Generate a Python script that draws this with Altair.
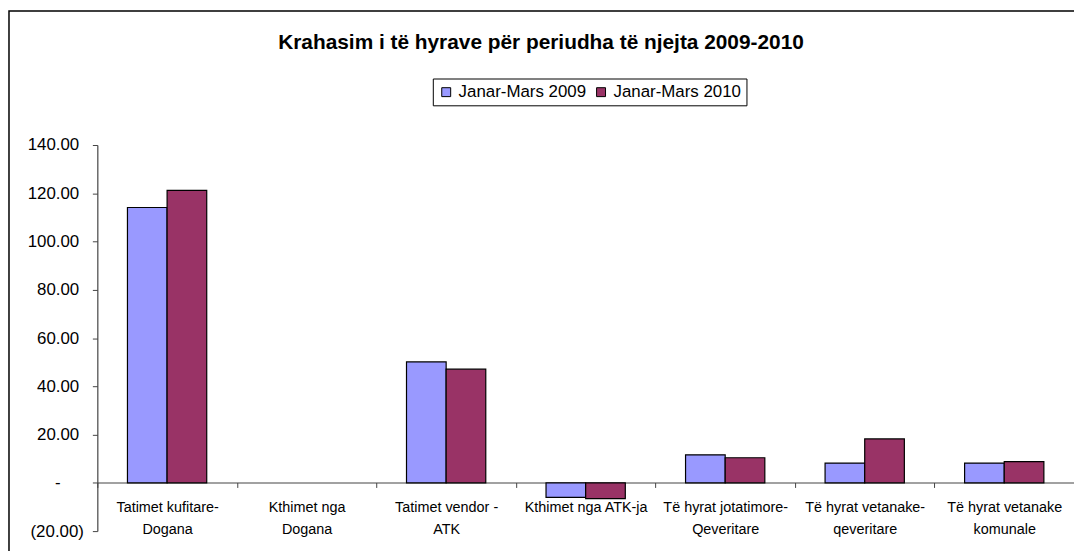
import altair as alt
import pandas as pd

categories = [
    "Tatimet kufitare-\nDogana",
    "Kthimet nga\nDogana",
    "Tatimet vendor -\nATK",
    "Kthimet nga ATK-ja",
    "Të hyrat jotatimore-\nQeveritare",
    "Të hyrat vetanake-\nqeveritare",
    "Të hyrat vetanake\nkomunale",
]
series = ["Janar-Mars 2009", "Janar-Mars 2010"]
values_2009 = [114.1, 0.0, 50.1, -6.0, 11.6, 8.2, 8.2]
values_2010 = [121.2, 0.0, 47.1, -6.5, 10.4, 18.2, 8.8]
colors = ["#9999FF", "#993366"]
y_ticks = [-20, 0, 20, 40, 60, 80, 100, 120, 140]

rows = []
for c, a, b in zip(categories, values_2009, values_2010):
    rows.append({"cat": c, "series": series[0], "value": a})
    rows.append({"cat": c, "series": series[1], "value": b})
df = pd.DataFrame(rows)

W = 984
H = 389
band = W / len(categories)
FONT = "Liberation Sans"
NB = "\u00a0"
ZW = "\u200b"

y_label_expr = (
    "datum.value == 0 ? '-" + NB * 5 + ZW + "' : (datum.value < 0 ? '(' + format(-datum.value, ',.2f') + ')' : format(datum.value, ',.2f') + '" + NB + ZW + "')"
)

bars = alt.Chart(df).mark_bar(stroke="black").encode(
    x=alt.X(
        "cat:N",
        sort=categories,
        scale=alt.Scale(paddingInner=0, paddingOuter=0),
        axis=alt.Axis(
            title=None,
            orient="bottom",
            offset=-49,
            labelExpr="split(datum.label, '\\n')",
            labelAngle=0,
            labelFontSize=14.5,
            labelLineHeight=22,
            labelFont=FONT,
            labelColor="black",
            labelPadding=13,
            labelOverlap=False,
            labelLimit=0,
            tickOffset=-band / 2,
            labelOffset=band / 2,
            tickSize=5,
            tickColor="#444",
            domainColor="#444",
            domainWidth=1.2,
        ),
    ),
    xOffset=alt.XOffset("series:N", sort=series, scale=alt.Scale(paddingInner=0, paddingOuter=0.76)),
    y=alt.Y(
        "value:Q",
        scale=alt.Scale(domain=[-20, 140], nice=False, zero=False),
        axis=alt.Axis(
            title=None,
            values=y_ticks,
            labelExpr=y_label_expr,
            labelFontSize=17,
            labelFont=FONT,
            labelColor="black",
            labelPadding=9,
            tickSize=5,
            tickColor="#444",
            domainColor="#444",
            domainWidth=1.2,
            grid=False,
        ),
    ),
    strokeWidth=alt.condition(alt.datum.value == 0, alt.value(0), alt.value(1.2)),
    color=alt.Color(
        "series:N",
        sort=series,
        scale=alt.Scale(domain=series, range=colors),
        legend=alt.Legend(
            title=None,
            orient="none",
            legendX=338,
            legendY=-67,
            direction="horizontal",
            symbolType="square",
            symbolSize=81,
            symbolStrokeColor="black",
            symbolStrokeWidth=1,
            labelFontSize=17,
            labelFont=FONT,
            labelColor="black",
            labelOffset=4,
            columnPadding=6,
            padding=5,
            strokeColor="black",
            fillColor="white",
        ),
    ),
)

border_df = pd.DataFrame({"a": [0]})
border = alt.Chart(border_df).mark_rect(fillOpacity=0, stroke="black", strokeWidth=1.5).encode(
    x=alt.value(-89), x2=alt.value(1100), y=alt.value(-135), y2=alt.value(500)
)

chart = alt.layer(border, bars).properties(
    width=W,
    height=H,
    title=alt.TitleParams(
        "Krahasim i të hyrave për periudha të njejta 2009-2010",
        font=FONT,
        fontSize=21,
        fontWeight="bold",
        color="black",
        anchor="middle",
        dx=-45,
        offset=0,
        dy=43,
    ),
    autosize=alt.AutoSizeParams(type="none"),
    padding={"left": 90, "top": 136, "right": 0, "bottom": 18},
).configure_view(strokeWidth=0)

chart.save("out.html", embed_options={"renderer": "svg", "actions": False})
